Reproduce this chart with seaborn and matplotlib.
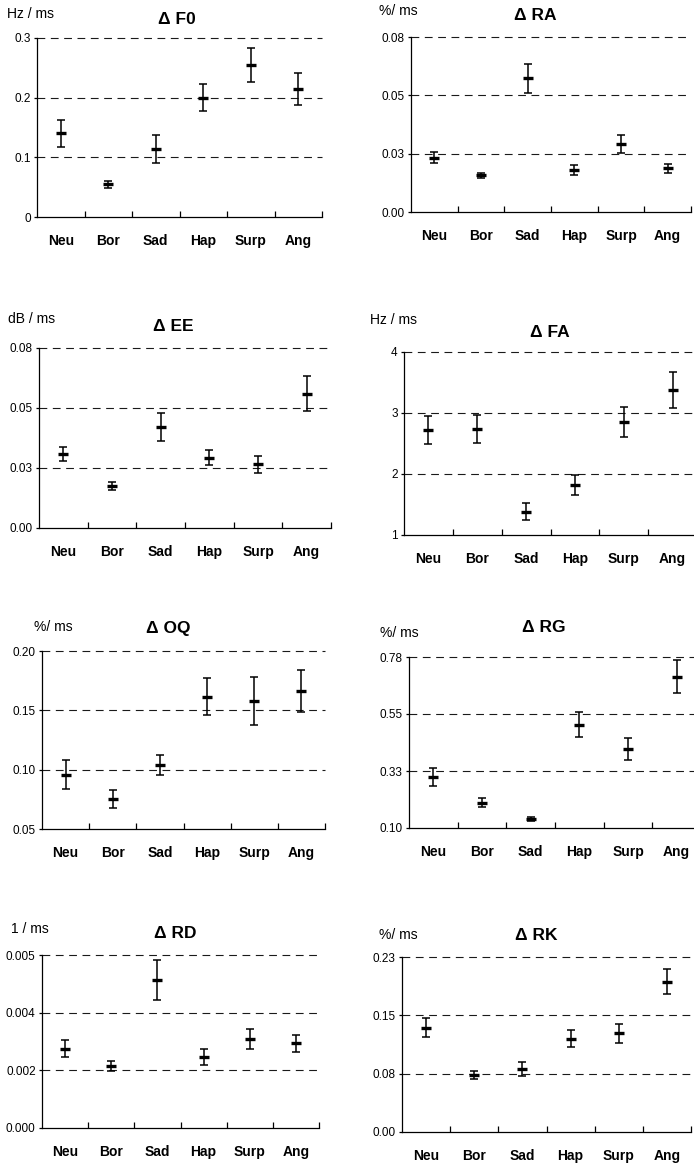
import numpy as np
import matplotlib
matplotlib.use("Agg")
import matplotlib.pyplot as plt
import seaborn as sns

emotions = ["Neu", "Bor", "Sad", "Hap", "Surp", "Ang"]

# means and half-widths of the error bars
f0_mean = [0.140, 0.055, 0.114, 0.200, 0.255, 0.214]
f0_err = [0.022, 0.006, 0.023, 0.023, 0.029, 0.027]
ra_mean = [0.0232, 0.0158, 0.0573, 0.0180, 0.0292, 0.0188]
ra_err = [0.0024, 0.0011, 0.0061, 0.0022, 0.0038, 0.0019]
ee_mean = [0.0309, 0.0174, 0.0421, 0.0292, 0.0266, 0.0560]
ee_err = [0.0030, 0.0016, 0.0060, 0.0031, 0.0036, 0.0072]
fa_mean = [2.72, 2.73, 1.38, 1.82, 2.85, 3.38]
fa_err = [0.23, 0.23, 0.14, 0.17, 0.25, 0.29]
oq_mean = [0.0958, 0.0753, 0.1039, 0.1615, 0.1579, 0.1663]
oq_err = [0.0121, 0.0073, 0.0086, 0.0158, 0.0202, 0.0173]
rg_mean = [0.301, 0.200, 0.134, 0.508, 0.413, 0.697]
rg_err = [0.034, 0.019, 0.008, 0.048, 0.044, 0.065]
rd_mean = [0.00241, 0.00188, 0.00450, 0.00216, 0.00271, 0.00257]
rd_err = [0.00025, 0.00014, 0.00061, 0.00024, 0.00030, 0.00025]
rk_mean = [0.134, 0.073, 0.081, 0.120, 0.127, 0.193]
rk_err = [0.012, 0.005, 0.009, 0.011, 0.012, 0.016]

# y ticks (value) and the labels printed next to them
f0_ticks = [0, 0.1, 0.2, 0.3]
f0_labels = ["0", "0.1", "0.2", "0.3"]
ra_ticks = [0, 0.025, 0.05, 0.075]
ra_labels = ["0.00", "0.03", "0.05", "0.08"]
ee_ticks = [0, 0.025, 0.05, 0.075]
ee_labels = ["0.00", "0.03", "0.05", "0.08"]
fa_ticks = [1, 2, 3, 4]
fa_labels = ["1", "2", "3", "4"]
oq_ticks = [0.05, 0.10, 0.15, 0.20]
oq_labels = ["0.05", "0.10", "0.15", "0.20"]
rg_ticks = [0.10, 0.325, 0.55, 0.775]
rg_labels = ["0.10", "0.33", "0.55", "0.78"]
rd_ticks = [0, 0.00175, 0.0035, 0.00525]
rd_labels = ["0.000", "0.002", "0.004", "0.005"]
rk_ticks = [0, 0.075, 0.15, 0.225]
rk_labels = ["0.00", "0.08", "0.15", "0.23"]

titles = ["\u0394 F0", "\u0394 RA", "\u0394 EE", "\u0394 FA",
          "\u0394 OQ", "\u0394 RG", "\u0394 RD", "\u0394 RK"]
units = ["Hz / ms", "%/ ms", "dB / ms", "Hz / ms",
         "%/ ms", "%/ ms", "1 / ms", "%/ ms"]

panels = [
    (f0_mean, f0_err, f0_ticks, f0_labels),
    (ra_mean, ra_err, ra_ticks, ra_labels),
    (ee_mean, ee_err, ee_ticks, ee_labels),
    (fa_mean, fa_err, fa_ticks, fa_labels),
    (oq_mean, oq_err, oq_ticks, oq_labels),
    (rg_mean, rg_err, rg_ticks, rg_labels),
    (rd_mean, rd_err, rd_ticks, rd_labels),
    (rk_mean, rk_err, rk_ticks, rk_labels),
]

# layout in pixels: axes box (x0, x1, ytop, ybottom), title (x, y), unit (x, y)
W, H = 694, 1166
boxes = [(37, 322, 38, 217), (411, 691, 37, 212),
         (39, 331, 348, 528), (404, 697, 352, 535),
         (42, 325, 651, 829), (409, 701, 657, 828),
         (42, 319, 955, 1128), (402, 691, 957, 1132)]
title_pos = [(177, 19), (535, 15), (173, 327), (550, 332),
             (168, 629), (544, 628), (175, 933), (536, 936)]
unit_pos = [(7, 14), (379, 11), (8, 319), (370, 320),
            (34, 627), (380, 633), (11, 929), (379, 935)]

sns.set_style("ticks")
plt.rcParams["font.family"] = ["Liberation Sans", "DejaVu Sans"]
plt.rcParams["text.color"] = "black"
plt.rcParams["xtick.labelcolor"] = "black"
plt.rcParams["ytick.labelcolor"] = "black"

fig = plt.figure(figsize=(W / 100, H / 100), dpi=100)

for i, (mean, err, ticks, labels) in enumerate(panels):
    x0, x1, yt, yb = boxes[i]
    ax = fig.add_axes([x0 / W, 1 - yb / H, (x1 - x0) / W, (yb - yt) / H])

    for t in ticks[1:]:
        ax.axhline(t, color="#1a1a1a", lw=0.8, ls=(0, (7, 5)),
                   zorder=0, clip_on=False)

    sns.scatterplot(x=emotions, y=mean, marker="_", s=45, linewidth=2.4,
                    color="black", ax=ax, zorder=3)
    ax.errorbar(np.arange(len(emotions)), mean, yerr=err, fmt="none",
                ecolor="black", elinewidth=1.1, capsize=2.6, capthick=1.1,
                zorder=2)

    ax.set_xlim(-0.5, len(emotions) - 0.5)
    ax.set_ylim(ticks[0], ticks[-1])
    ax.set_yticks(ticks)
    ax.set_yticklabels(labels, fontsize=8.5)
    ax.set_xticks(np.arange(len(emotions)))
    ax.set_xticklabels(emotions, fontsize=10, fontweight="bold")
    ax.set_xticks(np.arange(len(emotions)) + 0.5, minor=True)
    ax.tick_params(axis="x", which="major", length=0, pad=12)
    ax.tick_params(axis="x", which="minor", direction="in", length=4,
                   width=0.9, color="black")
    ax.tick_params(axis="y", length=2.5, width=0.9, pad=2, color="black")

    sns.despine(ax=ax)
    for side in ["left", "bottom"]:
        ax.spines[side].set_color("black")
        ax.spines[side].set_linewidth(0.9)
    ax.set_xlabel("")
    ax.set_ylabel("")

    tx, ty = title_pos[i]
    fig.text(tx / W, 1 - ty / H, titles[i], ha="center", va="center",
             fontsize=12.5, fontweight="bold")
    ux, uy = unit_pos[i]
    fig.text(ux / W, 1 - uy / H, units[i], ha="left", va="center",
             fontsize=10)

fig.savefig("out.png", dpi=100)
